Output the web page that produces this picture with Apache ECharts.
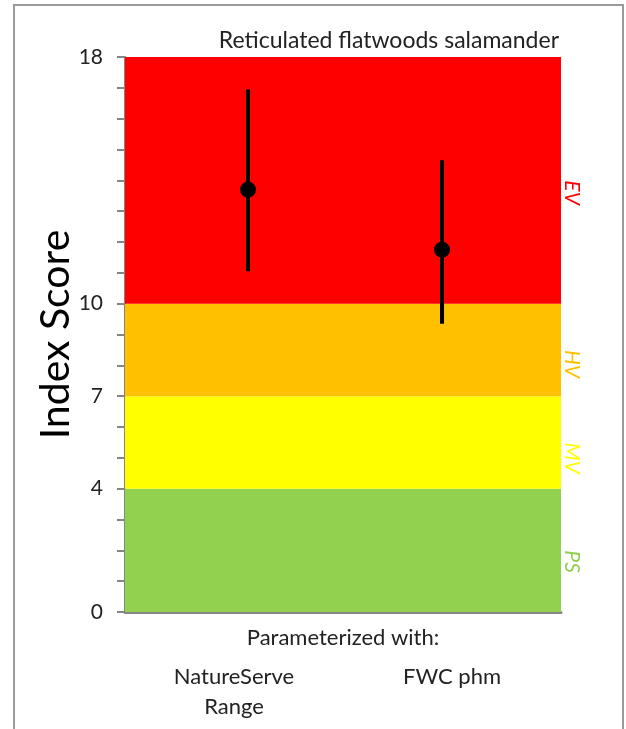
<!DOCTYPE html>
<html><head><meta charset="utf-8">
<script src="https://cdn.jsdelivr.net/npm/echarts@6/dist/echarts.min.js"></script>
<style>
html,body{margin:0;padding:0;background:#fff;}
#frame{position:absolute;left:13px;top:4px;width:607px;height:740px;border:2px solid #9a9a9a;border-bottom:none;}
#chart{position:absolute;left:0;top:0;width:626px;height:729px;}
</style></head>
<body>
<div id="frame"></div>
<div id="chart"></div>
<script>
const categories = ['NatureServe\nRange', 'FWC phm'];
const means = [13.7, 11.75];
const lows = [11.05, 9.35];
const highs = [16.95, 14.65];
const bands = [
  {from: 0, to: 4, name: 'PS', color: '#92d050'},
  {from: 4, to: 7, name: 'MV', color: '#ffff00'},
  {from: 7, to: 10, name: 'HV', color: '#ffc000'},
  {from: 10, to: 18, name: 'EV', color: '#ff0000'}
];
const yLabels = [0, 4, 7, 10, 18];
const title = 'Reticulated flatwoods salamander';
const FONT = 'Lato, "Open Sans", sans-serif';
const pointShift = [14, -10];

const chart = echarts.init(document.getElementById('chart'));
chart.setOption({
  animation: false,
  backgroundColor: 'transparent',
  title: {text: title, right: 62, top: 24, textStyle: {fontFamily: FONT, fontWeight: 'normal', fontSize: 23, color: '#222'}},
  grid: {left: 125, right: 65, top: 57, bottom: 117, outerBoundsMode: 'none', containLabel: false},
  xAxis: {
    type: 'category', data: categories,
    name: 'Parameterized with:', nameLocation: 'middle', nameGap: 15, nameMoveOverlap: false,
    nameTextStyle: {fontFamily: FONT, fontSize: 22, color: '#222'},
    axisLine: {lineStyle: {color: '#858585', width: 3}},
    axisTick: {show: false},
    axisLabel: {margin: 50, fontFamily: FONT, fontSize: 22, color: '#222', lineHeight: 30},
  },
  yAxis: {
    type: 'value', min: 0, max: 18, interval: 1,
    name: 'Index Score', nameLocation: 'middle', nameGap: 49, nameRotate: 90, nameMoveOverlap: false,
    nameTextStyle: {fontFamily: FONT, fontSize: 41, color: '#000'},
    splitLine: {show: false},
    axisLine: {show: true, lineStyle: {color: '#858585', width: 2}},
    axisTick: {show: true, length: 8, lineStyle: {color: '#858585', width: 2}},
    axisLabel: {margin: 22, fontFamily: FONT, fontSize: 21, color: '#222',
      formatter: v => yLabels.indexOf(v) >= 0 ? String(v) : ''}
  },
  series: [{
    type: 'custom',
    data: categories.map((c, i) => [i, means[i], lows[i], highs[i]]),
    renderItem: function (params, api) {
      const i = api.value(0);
      const sh = pointShift[i];
      const m = api.coord([i, api.value(1)]);
      const lo = api.coord([i, api.value(2)]);
      const hi = api.coord([i, api.value(3)]);
      return {type: 'group', children: [
        {type: 'line', shape: {x1: lo[0] + sh, y1: lo[1], x2: hi[0] + sh, y2: hi[1]}, style: {stroke: '#000', lineWidth: 4}},
        {type: 'circle', shape: {cx: m[0] + sh, cy: m[1], r: 8}, style: {fill: '#000'}}
      ]};
    },
    z: 5,
    markArea: {
      silent: true,
      data: bands.map(b => [
        {yAxis: b.from, itemStyle: {color: b.color, opacity: 1},
         label: {show: true, formatter: b.name, position: 'right', distance: 11, rotate: -90,
           color: b.color, fontStyle: 'italic', fontFamily: FONT, fontSize: 21}},
        {yAxis: b.to}
      ])
    }
  }]
});
</script>
</body></html>
